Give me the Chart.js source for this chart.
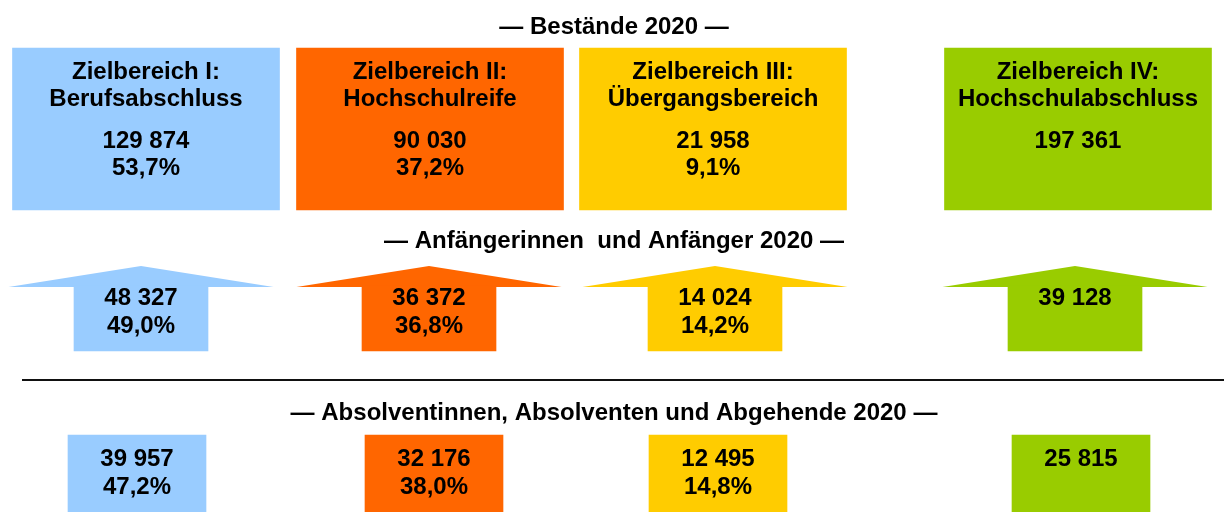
<!DOCTYPE html>
<html lang="de">
<head>
<meta charset="utf-8">
<title>Bildungsbericht Zielbereiche 2020</title>
<script src="https://cdn.jsdelivr.net/npm/chart.js@4/dist/chart.umd.min.js"></script>
<style>
  html, body { margin: 0; padding: 0; background: #fff; }
  #wrap { width: 1224px; height: 512px; position: relative; }
</style>
</head>
<body>
<div id="wrap"><canvas id="chart"></canvas></div>
<script>
// ── Daten ─────────────────────────────────────────────────────
const bereiche = [
    ['Zielbereich I:',   'Berufsabschluss'],
    ['Zielbereich II:',  'Hochschulreife'],
    ['Zielbereich III:', 'Übergangsbereich'],
    ['Zielbereich IV:',  'Hochschulabschluss'],
];
const abschnitte = [
    '— Bestände 2020 —',
    '— Anfängerinnen  und Anfänger 2020 —',
    '— Absolventinnen, Absolventen und Abgehende 2020 —',
];
const bestand        = [129874, 90030, 21958, 197361];
const bestandPct     = [53.7, 37.2, 9.1, null];
const anfaenger      = [48327, 36372, 14024, 39128];
const anfaengerPct   = [49.0, 36.8, 14.2, null];
const absolventen    = [39957, 32176, 12495, 25815];
const absolventenPct = [47.2, 38.0, 14.8, null];

// ── Layout / Farben ───────────────────────────────────────────
const C = {
    blau:   '#99ccff',
    orange: '#ff6600',
    gelb:   '#ffcc00',
    gruen:  '#99cc00',
    text:   '#000000',
    linie:  '#111111',
};
const farben = [C.blau, C.orange, C.gelb, C.gruen];

// Spaltenmitten je Zeile (x-Achse)
const L = {
    box:    { mitten: [146, 430, 713, 1078], oben: 48, unten: 210, breite: 267 },
    pfeil:  { mitten: [141, 429, 715, 1075], spitze: 266, schulter: 287, unten: 351, kopf: 265, breite: 134 },
    abgang: { mitten: [137, 434, 718, 1081], oben: 435, unten: 512, breite: 138 },
    linie:  { y: 380, von: 22, bis: 1224 },
    mitte:  614,
    kopfzeile: [34, 248, 420],
    zeilen: 27,
};

const FONT = "bold 24px 'Liberation Sans', Arial, sans-serif";

function fmt(n)    { return String(n).replace(/\B(?=(\d{3})+(?!\d))/g, ' '); }
function fmtPct(p) { return p.toFixed(1).replace('.', ',') + '%'; }

function floatBars(label, zeile, oben, unten) {
    return {
        label,
        data: zeile.mitten.map(x => ({ x, y: [oben, unten] })),
        backgroundColor: farben,
        borderWidth: 0,
        barThickness: zeile.breite,
        grouped: false,
    };
}

// Pfeilspitzen, Trennlinie und Beschriftungen
const infografik = {
    id: 'infografik',
    beforeDatasetsDraw(chart) {
        const { ctx, scales: { x, y } } = chart;
        const p = L.pfeil;
        ctx.save();
        p.mitten.forEach((cx, i) => {
            ctx.fillStyle = farben[i];
            ctx.beginPath();
            ctx.moveTo(x.getPixelForValue(cx - p.kopf / 2), y.getPixelForValue(p.schulter));
            ctx.lineTo(x.getPixelForValue(cx), y.getPixelForValue(p.spitze));
            ctx.lineTo(x.getPixelForValue(cx + p.kopf / 2), y.getPixelForValue(p.schulter));
            ctx.closePath();
            ctx.fill();
        });
        ctx.restore();
    },
    afterDatasetsDraw(chart) {
        const { ctx, scales: { x, y } } = chart;
        ctx.save();

        // Trennlinie
        ctx.strokeStyle = C.linie;
        ctx.lineWidth = 2;
        ctx.beginPath();
        ctx.moveTo(x.getPixelForValue(L.linie.von), y.getPixelForValue(L.linie.y));
        ctx.lineTo(x.getPixelForValue(L.linie.bis), y.getPixelForValue(L.linie.y));
        ctx.stroke();

        ctx.font = FONT;
        ctx.fillStyle = C.text;
        ctx.textAlign = 'center';
        ctx.textBaseline = 'alphabetic';

        const put = (txt, vx, vy) => ctx.fillText(txt, x.getPixelForValue(vx), y.getPixelForValue(vy));

        abschnitte.forEach((t, i) => put(t, L.mitte, L.kopfzeile[i]));

        for (let i = 0; i < bereiche.length; i++) {
            // Bestände
            const bx = L.box.mitten[i];
            put(bereiche[i][0], bx, 79);
            put(bereiche[i][1], bx, 79 + L.zeilen);
            put(fmt(bestand[i]), bx, 148);
            if (bestandPct[i] != null) put(fmtPct(bestandPct[i]), bx, 148 + L.zeilen);

            // Anfänger
            const px = L.pfeil.mitten[i];
            put(fmt(anfaenger[i]), px, 305);
            if (anfaengerPct[i] != null) put(fmtPct(anfaengerPct[i]), px, 305 + 28);

            // Absolventen
            const ax = L.abgang.mitten[i];
            put(fmt(absolventen[i]), ax, 466);
            if (absolventenPct[i] != null) put(fmtPct(absolventenPct[i]), ax, 466 + 28);
        }
        ctx.restore();
    }
};

new Chart(document.getElementById('chart'), {
    type: 'bar',
    data: {
        datasets: [
            floatBars('Bestände 2020', L.box, L.box.oben, L.box.unten),
            floatBars('Anfängerinnen und Anfänger 2020', L.pfeil, L.pfeil.schulter - 1, L.pfeil.unten),
            floatBars('Absolventinnen, Absolventen und Abgehende 2020', L.abgang, L.abgang.oben, L.abgang.unten),
        ]
    },
    options: {
        responsive: true,
        maintainAspectRatio: false,
        animation: false,
        layout: { padding: 0 },
        scales: {
            x: { type: 'linear', min: 0, max: 1224, offset: false, display: false },
            y: { type: 'linear', min: 0, max: 512, reverse: true, display: false },
        },
        plugins: {
            legend: { display: false },
            tooltip: { enabled: false },
        }
    },
    plugins: [infografik]
});
</script>
</body>
</html>
